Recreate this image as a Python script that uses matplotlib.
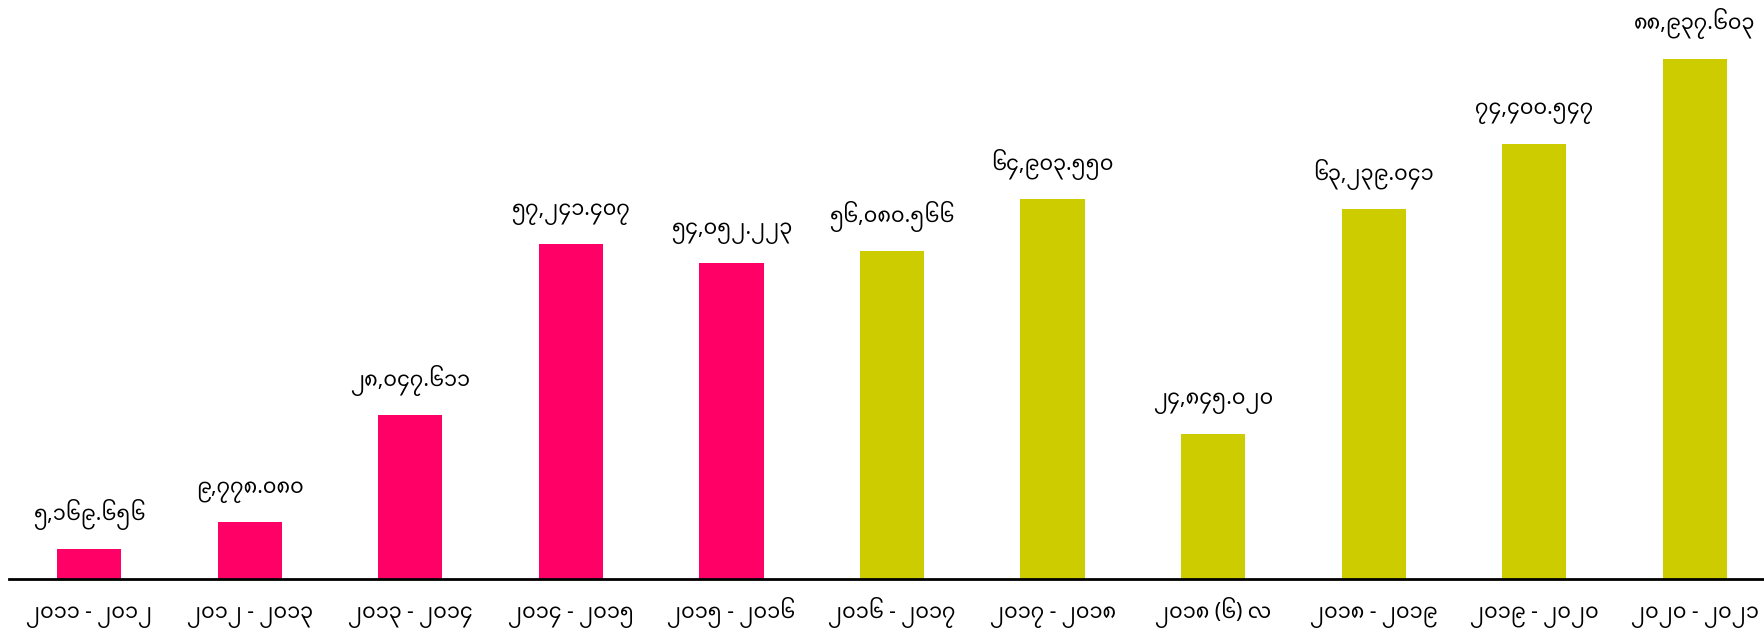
import matplotlib
matplotlib.use("Agg")
import matplotlib.pyplot as plt
import numpy as np

# Fiscal years (Myanmar digits) and values
periods = [
    "၂၀၁၁ - ၂၀၁၂", "၂၀၁၂ - ၂၀၁၃", "၂၀၁၃ - ၂၀၁၄", "၂၀၁၄ - ၂၀၁၅",
    "၂၀၁၅ - ၂၀၁၆", "၂၀၁၆ - ၂၀၁၇", "၂၀၁၇ - ၂၀၁၈", "၂၀၁၈ (၆) လ",
    "၂၀၁၈ - ၂၀၁၉", "၂၀၁၉ - ၂၀၂၀", "၂၀၂၀ - ၂၀၂၁",
]
values = [
    5169.656, 9778.080, 28047.611, 57241.407, 54052.223, 56080.566,
    64903.550, 24845.020, 63239.041, 74400.547, 88937.603,
]
groups = [0, 0, 0, 0, 0, 1, 1, 1, 1, 1, 1]
group_colors = ["#FF0066", "#CCCC00"]

MM_DIGITS = str.maketrans("0123456789", "၀၁၂၃၄၅၆၇၈၉")


def mm_number(v):
    return f"{v:,.3f}".translate(MM_DIGITS)


plt.rcParams["font.family"] = ["Noto Sans Myanmar", "DejaVu Sans"]

fig = plt.figure(figsize=(17.64, 6.33), dpi=100)
ax = fig.add_axes([0.005, 0.085, 0.995, 0.915])

x = np.arange(len(values))
colors = [group_colors[g] for g in groups]
bars = ax.bar(x, values, width=0.4, color=colors)

for b, v in zip(bars, values):
    ax.annotate(mm_number(v), (b.get_x() + b.get_width() / 2, v),
                xytext=(0, 14), textcoords="offset points",
                ha="center", va="bottom", fontsize=15)

ax.set_xlim(-0.5, len(values) - 0.57)
ax.set_ylim(0, 99000)
ax.set_xticks(x)
ax.set_xticklabels(periods, fontsize=15)
ax.tick_params(axis="x", length=0, pad=28)
for lbl in ax.get_xticklabels():
    lbl.set_verticalalignment("baseline")
ax.set_yticks([])
for side in ("top", "right", "left"):
    ax.spines[side].set_visible(False)
ax.spines["bottom"].set_linewidth(2)
ax.spines["bottom"].set_color("black")

fig.savefig("out.png", dpi=100)
plt.close(fig)
